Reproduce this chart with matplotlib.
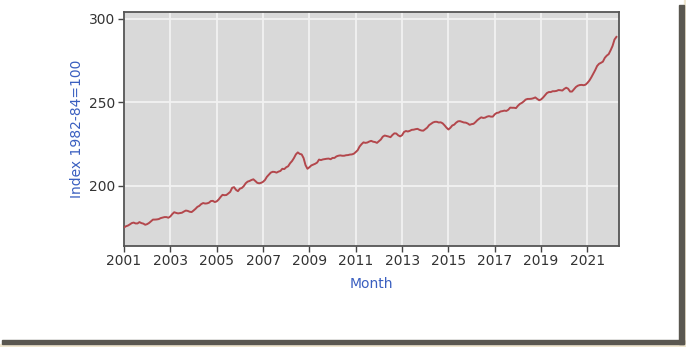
#!/usr/bin/env python
"""plot.py - CPI-U index, 2001 to 2022."""
import matplotlib.pyplot as plt
from matplotlib.patches import Rectangle

start_year = 2001
# monthly index values, Jan 2001 .. Apr 2022
cpi = [
    175.1, 175.8, 176.2, 176.9, 177.7, 178.0, 177.5, 177.5, 178.3, 177.7, 177.4, 176.7,
    177.1, 177.8, 178.8, 179.8, 179.8, 179.9, 180.1, 180.7, 181.0, 181.3, 181.3, 180.9,
    181.7, 183.1, 184.2, 183.8, 183.5, 183.7, 183.9, 184.6, 185.2, 185.0, 184.5, 184.3,
    185.2, 186.2, 187.4, 188.0, 189.1, 189.7, 189.4, 189.5, 189.9, 190.9, 191.0, 190.3,
    190.7, 191.8, 193.3, 194.6, 194.4, 194.5, 195.4, 196.4, 198.8, 199.2, 197.6, 196.8,
    198.3, 198.7, 199.8, 201.5, 202.5, 202.9, 203.5, 203.9, 202.9, 201.8, 201.5, 201.8,
    202.4, 203.5, 205.4, 206.7, 207.9, 208.4, 208.3, 207.9, 208.5, 208.9, 210.2, 210.0,
    211.1, 211.7, 213.5, 214.8, 216.6, 218.8, 220.0, 219.1, 218.8, 216.6, 212.4, 210.2,
    211.1, 212.2, 212.7, 213.2, 213.9, 215.7, 215.4, 215.8, 216.0, 216.2, 216.3, 215.9,
    216.7, 216.7, 217.6, 218.0, 218.2, 218.0, 218.0, 218.3, 218.4, 218.7, 218.8, 219.2,
    220.2, 221.3, 223.5, 224.9, 226.0, 225.7, 225.9, 226.5, 226.9, 226.4, 226.2, 225.7,
    226.7, 227.7, 229.4, 230.1, 229.8, 229.5, 229.1, 230.4, 231.4, 231.3, 230.2, 229.6,
    230.3, 232.2, 232.8, 232.5, 232.9, 233.5, 233.6, 233.9, 234.1, 233.5, 233.1, 233.0,
    233.9, 234.8, 236.3, 237.1, 237.9, 238.3, 238.3, 237.9, 238.0, 237.4, 236.2, 234.8,
    233.7, 234.7, 236.1, 236.6, 237.8, 238.6, 238.7, 238.3, 237.9, 237.8, 237.3, 236.5,
    236.9, 237.1, 238.1, 239.3, 240.2, 241.0, 240.6, 240.8, 241.4, 241.7, 241.4, 241.4,
    242.8, 243.6, 243.8, 244.5, 244.7, 245.0, 244.8, 245.5, 246.8, 246.7, 246.7, 246.5,
    247.9, 249.0, 249.6, 250.5, 251.6, 252.0, 252.0, 252.1, 252.4, 252.9, 252.0, 251.2,
    251.7, 252.8, 254.2, 255.5, 256.1, 256.1, 256.6, 256.6, 256.8, 257.3, 257.2, 257.0,
    258.0, 258.7, 258.1, 256.4, 256.4, 257.8, 259.1, 259.9, 260.3, 260.4, 260.2, 260.5,
    261.6, 263.0, 264.9, 267.1, 269.2, 271.7, 273.0, 273.6, 274.3, 276.6, 277.9, 278.8,
    281.1, 283.7, 287.5, 289.1,
]
year_ticks = list(range(2001, 2022, 2))
y_ticks = [200, 250, 300]

W, H = 686, 347


def main():
    """Draw the chart and save it."""
    fig = plt.figure(figsize=(W / 100, H / 100), dpi=100, facecolor='white')

    # screenshot frame shadow
    beige = '#efe6cf'
    fig.patches.append(Rectangle((684 / W, 0), 2 / W, 1, transform=fig.transFigure,
                                 color=beige, zorder=-2))
    fig.patches.append(Rectangle((0, 0), 1, 3 / H, transform=fig.transFigure,
                                 color=beige, zorder=-2))
    fig.patches.append(Rectangle((679 / W, 3 / H), 5 / W, (H - 8) / H,
                                 transform=fig.transFigure, color='#5a5750', zorder=-1))
    fig.patches.append(Rectangle((2 / W, 3 / H), 682 / W, 4 / H,
                                 transform=fig.transFigure, color='#5a5750', zorder=-1))

    ax = fig.add_axes([124 / W, 1 - 246 / H, (618.5 - 124) / W, (246 - 12) / H])
    x = [start_year + i / 12 for i in range(len(cpi))]
    ax.set_facecolor('#d9d9d9')
    ax.plot(x, cpi, color='#b3474c', lw=1.4, zorder=3)

    ax.set_xlim(2001, 2022.34)
    ax.set_ylim(164, 304)
    ax.set_xticks(year_ticks)
    ax.set_yticks(y_ticks)
    ax.grid(color='#f2f2f2', lw=1.3)
    ax.set_axisbelow(True)
    for s in ax.spines.values():
        s.set_color('#555555')
        s.set_linewidth(1.3)
    ax.tick_params(colors='#444444', labelsize=10, length=4, width=1,
                   labelcolor='#333333', pad=2)

    ax.set_xlabel('Month', color='#3a5fc0', fontsize=10, labelpad=6)
    ax.set_ylabel('Index 1982-84=100', color='#3a5fc0', fontsize=10, labelpad=4)

    fig.savefig('out.png', dpi=100, facecolor='white')


if __name__ == "__main__":
    main()
